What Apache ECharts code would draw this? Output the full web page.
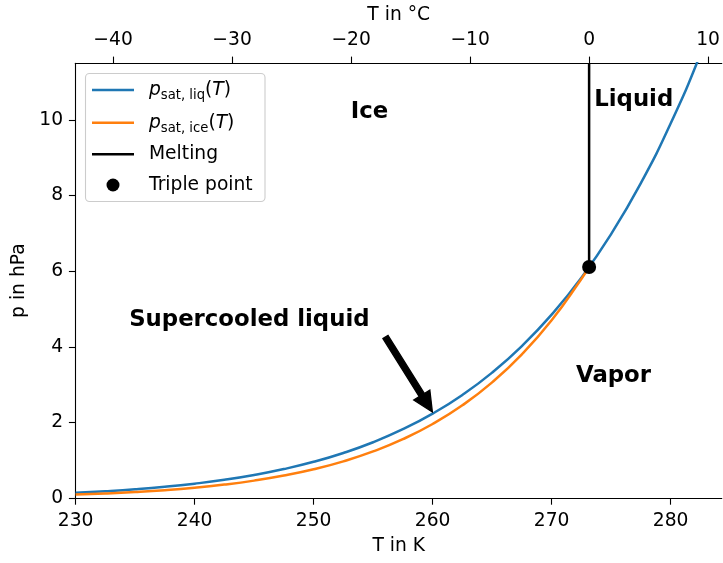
<!DOCTYPE html>
<html>
<head>
<meta charset="utf-8">
<script src="https://cdn.jsdelivr.net/npm/echarts@6/dist/echarts.min.js"></script>
<style>html,body{margin:0;padding:0;background:#fff;}#c{width:723px;height:563px;}</style>
</head>
<body>
<div id="c"></div>
<script>
// ---- data ----
const T_liq = [230, 232.5, 235, 237.5, 240, 242.5, 245, 247.5, 250, 252.5, 255, 257.5, 260, 262.5, 265, 267.5, 270, 272.5, 275, 277.5, 280, 282.5, 285];
const p_liq = [0.136, 0.178, 0.230, 0.296, 0.379, 0.481, 0.608, 0.765, 0.957, 1.191, 1.475, 1.819, 2.232, 2.727, 3.317, 4.019, 4.850, 5.830, 6.982, 8.331, 9.906, 11.738, 13.862];
const T_ice = [230, 232.5, 235, 237.5, 240, 242.5, 245, 247.5, 250, 252.5, 255, 257.5, 260, 262.5, 265, 267.5, 270, 272.5, 273.15];
const p_ice = [0.090, 0.119, 0.158, 0.208, 0.273, 0.355, 0.460, 0.593, 0.760, 0.970, 1.232, 1.556, 1.958, 2.453, 3.059, 3.800, 4.701, 5.793, 6.112];
const meltT = [273.15, 273.15];
const meltP = [6.112, 11.5];
const tripleT = 273.15;
const tripleP = 6.112;
const xTicks = [230, 240, 250, 260, 270, 280];
const topTicks = [-40, -30, -20, -10, 0, 10];
const yTicks = [0, 2, 4, 6, 8, 10];
const xRange = [230, 284.3];
const yRange = [0, 11.5];
const annoTexts = ['Ice', 'Liquid', 'Vapor', 'Supercooled liquid'];
const annoX = [254.7, 276.9, 275.2, 244.6];
const annoY = [10.22, 10.52, 3.23, 4.71];
const arrowFrom = [256.04, 4.26];
const arrowTo = [259.98, 2.275];
const legendNames = ['p_sat,liq(T)', 'p_sat,ice(T)', 'Melting', 'Triple point'];

// ---- styling ----
const FONT = 'DejaVu Sans';
const FS = 18.7;
const LW = 2.5;
const blue = '#1f77b4', orange = '#ff7f0e';

const chart = echarts.init(document.getElementById('c'), null, {renderer: 'canvas'});

const axisCommon = {
  axisLine: {show: true, onZero: false, lineStyle: {color: '#000', width: 1.1}},
  axisTick: {show: true, inside: false, length: 6.7, lineStyle: {color: '#000', width: 1.1}},
  splitLine: {show: false},
  nameTextStyle: {color: '#000', fontFamily: FONT, fontSize: FS},
};

function zip(a, b) { return a.map((v, i) => [v, b[i]]); }

const richMath = {
  i: {fontFamily: FONT, fontStyle: 'italic', fontSize: FS, lineHeight: 24, verticalAlign: 'middle', fill: '#000'},
  n: {fontFamily: FONT, fontSize: FS, lineHeight: 24, verticalAlign: 'middle', fill: '#000'},
  s: {fontFamily: FONT, fontSize: 13.2, lineHeight: 24, verticalAlign: 'bottom', fill: '#000'}
};

function mathLabel(name) {
  const m = name.match(/^p_sat,(\w+)\(T\)$/);
  if (m) return '{i|p}{s|sat, ' + m[1] + '}{n|(}{i|T}{n|)}';
  return '{n|' + name + '}';
}

const legendY = [90, 122.7, 154.3, 185];
const graphic = [
  {type: 'rect', z: 100, shape: {x: 85.5, y: 73.5, width: 179.5, height: 128, r: 4},
   style: {fill: 'rgba(255,255,255,0.8)', stroke: '#cccccc', lineWidth: 1.1}},
  {type: 'line', z: 101, shape: {x1: 92, y1: legendY[0], x2: 134, y2: legendY[0]}, style: {stroke: blue, lineWidth: LW}},
  {type: 'line', z: 101, shape: {x1: 92, y1: legendY[1], x2: 134, y2: legendY[1]}, style: {stroke: orange, lineWidth: LW}},
  {type: 'line', z: 101, shape: {x1: 92, y1: legendY[2], x2: 134, y2: legendY[2]}, style: {stroke: '#000', lineWidth: LW}},
  {type: 'circle', z: 101, shape: {cx: 113, cy: legendY[3], r: 6.5}, style: {fill: '#000'}}
];
legendNames.forEach((nm, i) => {
  graphic.push({type: 'text', z: 101, x: 149, y: legendY[i],
    style: {text: mathLabel(nm), rich: richMath, verticalAlign: 'middle', align: 'left',
      fontFamily: FONT, fontSize: FS, fill: '#000'}});
});

const option = {
  animation: false,
  backgroundColor: '#fff',
  textStyle: {fontFamily: FONT},
  grid: {left: 75.6, top: 63.3, right: 0.5, bottom: 65, containLabel: false},
  xAxis: [
    Object.assign({}, axisCommon, {
      type: 'value', position: 'bottom', min: xRange[0], max: xRange[1], interval: 10,
      name: 'T in K', nameLocation: 'middle', nameGap: 39,
      axisTick: Object.assign({}, axisCommon.axisTick, {customValues: xTicks}),
      axisLabel: {color: '#000', fontFamily: FONT, fontSize: FS, margin: 13.5, customValues: xTicks}
    }),
    Object.assign({}, axisCommon, {
      type: 'value', position: 'top', min: xRange[0] - 273.15, max: xRange[1] - 273.15,
      name: 'T in °C', nameLocation: 'middle', nameGap: 39,
      axisTick: Object.assign({}, axisCommon.axisTick, {customValues: topTicks}),
      axisLabel: {color: '#000', fontFamily: FONT, fontSize: FS, margin: 14, customValues: topTicks,
        formatter: v => (v < 0 ? '\u2212' + Math.abs(v) : String(v))}
    })
  ],
  yAxis: Object.assign({}, axisCommon, {
    type: 'value', min: yRange[0], max: yRange[1], interval: 2,
    name: 'p in hPa', nameLocation: 'middle', nameGap: 43, nameRotate: 90,
    axisTick: Object.assign({}, axisCommon.axisTick, {customValues: yTicks}),
    axisLabel: {color: '#000', fontFamily: FONT, fontSize: FS, margin: 12.5, customValues: yTicks}
  }),
  series: [
    {name: legendNames[0], type: 'line', xAxisIndex: 0, data: zip(T_liq, p_liq), showSymbol: false, symbol: 'none',
     smooth: 0.5, lineStyle: {color: blue, width: LW}, clip: true, z: 2},
    {name: legendNames[1], type: 'line', xAxisIndex: 0, data: zip(T_ice, p_ice), showSymbol: false, symbol: 'none',
     smooth: 0.5, lineStyle: {color: orange, width: LW}, clip: true, z: 3},
    {name: legendNames[2], type: 'line', xAxisIndex: 0, data: zip(meltT, meltP), showSymbol: false, symbol: 'none',
     lineStyle: {color: '#000', width: LW}, clip: true, z: 4},
    {name: legendNames[3], type: 'scatter', xAxisIndex: 0, data: [[tripleT, tripleP]], symbolSize: 14,
     itemStyle: {color: '#000', opacity: 1}, z: 5},
    {name: 'arrow', type: 'custom', xAxisIndex: 0, z: 6,
     data: [[arrowFrom[0], arrowFrom[1], arrowTo[0], arrowTo[1]]],
     encode: {x: [0, 2], y: [1, 3]},
     renderItem: function (params, api) {
       const p1 = api.coord([api.value(0), api.value(1)]);
       const p2 = api.coord([api.value(2), api.value(3)]);
       const dx = p2[0] - p1[0], dy = p2[1] - p1[1];
       const len = Math.hypot(dx, dy);
       const ux = dx / len, uy = dy / len, nx = -uy, ny = ux;
       const hl = 20, hw = 9.5, sw = 3;
       const bx = p2[0] - ux * hl, by = p2[1] - uy * hl;
       const pts = [
         [p1[0] + nx * sw, p1[1] + ny * sw],
         [bx + nx * sw, by + ny * sw],
         [bx + nx * hw, by + ny * hw],
         [p2[0], p2[1]],
         [bx - nx * hw, by - ny * hw],
         [bx - nx * sw, by - ny * sw],
         [p1[0] - nx * sw, p1[1] - ny * sw]
       ];
       return {type: 'polygon', shape: {points: pts}, style: {fill: '#000', stroke: '#000', lineWidth: 1.3, lineJoin: 'miter'}};
     }},
    {name: 'annotations', type: 'scatter', xAxisIndex: 0, z: 7, symbolSize: 1,
     itemStyle: {color: 'rgba(0,0,0,0)'},
     data: annoTexts.map((t, i) => ({value: [annoX[i], annoY[i]], name: t})),
     label: {show: true, position: 'inside', formatter: p => p.name, color: '#000', opacity: 1,
       textBorderWidth: 0, textBorderColor: 'transparent',
       fontFamily: FONT, fontWeight: 'bold', fontSize: 22.8}}
  ],
  graphic: graphic
};
chart.setOption(option);
</script>
</body>
</html>
